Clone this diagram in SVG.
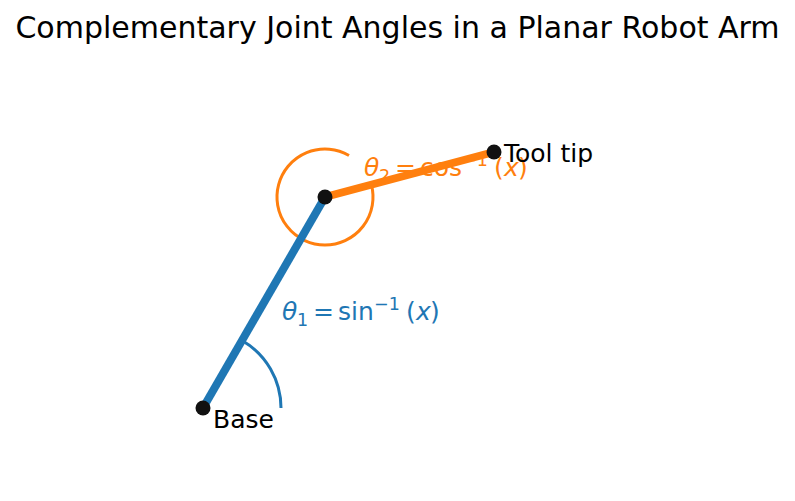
<svg xmlns="http://www.w3.org/2000/svg" width="795" height="501" viewBox="0 0 795 501">
<style>
text{font-family:"DejaVu Sans","Liberation Sans",sans-serif;}
.t{font-size:25px;fill:#000;}
.it{font-style:italic;}
.sub{font-size:17.5px;}
.blue{fill:#1f77b4;}
.orange{fill:#ff7f0e;}
.dot{fill:#111111;}
</style>
<rect width="795" height="501" fill="#ffffff"/>
<text x="397.5" y="38" text-anchor="middle" style="font-size:30px" fill="#000">Complementary Joint Angles in a Planar Robot Arm</text>
<g id="connectors">
<path id="arc1" d="M281,408 A78,78 0 0 0 242,340.45" fill="none" stroke="#1f77b4" stroke-width="3"/>
<path id="arc2" d="M349,155.43 A48,48 0 1 0 371.36,184.58" fill="none" stroke="#ff7f0e" stroke-width="3"/>
<line id="link1" x1="203" y1="408" x2="325" y2="197" stroke="#1f77b4" stroke-width="8"/>
<line id="link2" x1="325" y1="197" x2="494" y2="152" stroke="#ff7f0e" stroke-width="8"/>
</g>
<g id="label-theta1" class="blue">
<text x="282" y="320" class="t it blue">θ</text>
<text x="297" y="326" class="t sub blue">1</text>
<text x="313" y="320" class="t blue">=</text>
<text x="338" y="320" class="t blue">sin</text>
<text x="374" y="310" class="t sub blue">−1</text>
<text x="406" y="320" class="t blue">(</text>
<text x="416" y="320" class="t it blue">x</text>
<text x="430" y="320" class="t blue">)</text>
</g>
<g id="label-theta2" class="orange">
<text x="364" y="176" class="t it orange">θ</text>
<text x="379" y="182" class="t sub orange">2</text>
<text x="395" y="176" class="t orange">=</text>
<text x="420" y="176" class="t orange">cos</text>
<text x="462" y="166" class="t sub orange">−1</text>
<text x="494" y="176" class="t orange">(</text>
<text x="504" y="176" class="t it orange">x</text>
<text x="518" y="176" class="t orange">)</text>
</g>
<g id="base">
<circle cx="203" cy="408" r="7.5" class="dot"/>
<text x="213" y="428" class="t">Base</text>
</g>
<g id="joint">
<circle cx="325" cy="197" r="7.5" class="dot"/>
</g>
<g id="tooltip">
<circle cx="494" cy="152" r="7.5" class="dot"/>
<text x="504" y="162" class="t">Tool tip</text>
</g>
</svg>
